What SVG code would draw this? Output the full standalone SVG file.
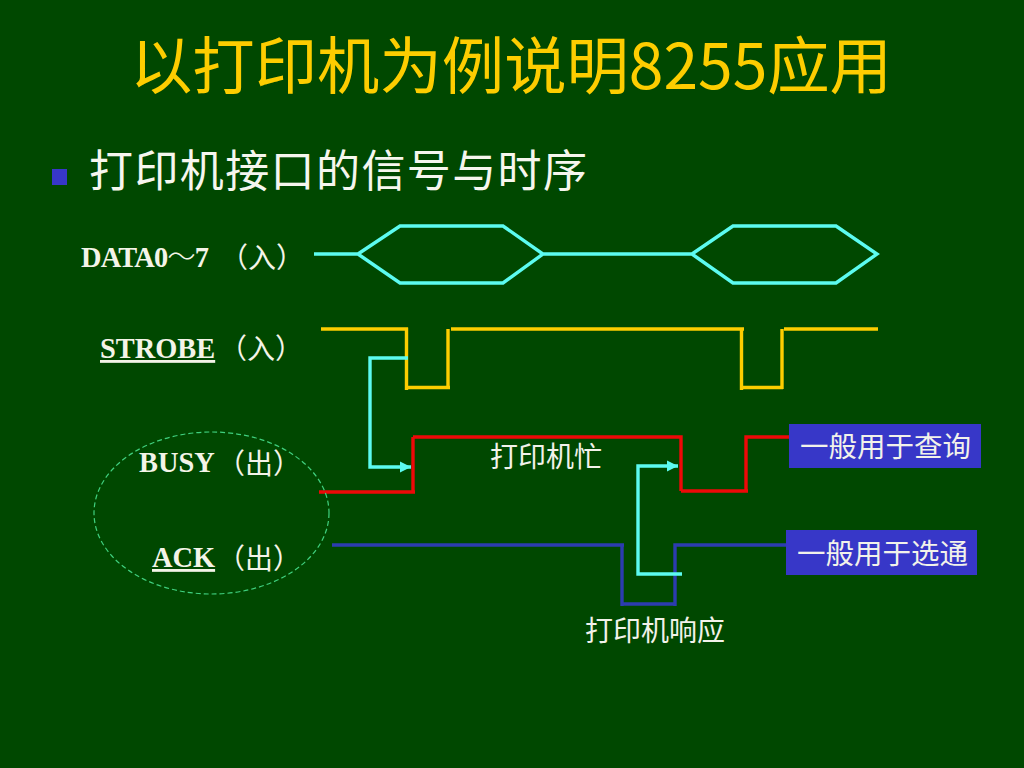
<svg xmlns="http://www.w3.org/2000/svg" width="1024" height="768" viewBox="0 0 1024 768">
<style>
.cjk{font-family:"Noto Sans CJK SC","Noto Sans",sans-serif}
.lab{font-family:"Liberation Serif","Noto Sans CJK SC",serif;font-weight:bold;font-size:28.400px;fill:#f4f4e8}
.lz{font-family:"Noto Sans CJK SC",serif;font-weight:400;font-size:28px;fill:#f4f4e8}
.w{fill:#f2f2ea;font-size:28.500px}
.f{fill:#f2f2ea;font-size:28px}
.l{fill:none;stroke-width:3.400;stroke-linejoin:miter}
.cy{stroke:#5cfbf0}.ye{stroke:#fdcd00}.re{stroke:#ee0808}.bl{stroke:#2c3cb0}
.box{fill:#3737c8}
</style>
<defs>
<marker id="ah" markerUnits="userSpaceOnUse" markerWidth="13" markerHeight="13" refX="11" refY="6" orient="auto"><path d="M0 0.500L11 6L0 11.500z" fill="#5cfbf0"/></marker>
</defs>
<rect width="1024" height="768" fill="#004800"/>
<g id="title"><text class="cjk" x="130" y="89" font-size="62.400" fill="#fdcd00" textLength="762">以打印机为例说明8255应用</text></g>
<g id="subtitle"><rect x="52" y="169" width="15" height="16" fill="#3737c8"/><text class="cjk" x="89" y="187" font-size="44" fill="#f6f6ee" textLength="498">打印机接口的信号与时序</text></g>
<g id="connectors">
<path class="l cy" d="M314 254H358L400 226H503L543 254L503 283H400L358 254M543 254H692L733 226H836L877 254L836 283H733L692 254"/>
<path class="l ye" d="M321 329H408M406.500 327.500V390M406 387.500H450M448 389V329M451 329H744M741.500 330V390M741 387.500H783M782 389V329M784 329H878"/>
<path class="l re" d="M319 492H415M413 493V437M413 437H681V491M681 491H748M746 492V437H790"/>
<path class="l bl" d="M332 545H624M622 544V606M622 604H676M675 606V545H786"/>
<path class="l cy" d="M408 358H370V467H411" marker-end="url(#ah)"/>
<path class="l cy" d="M682 574H638V466H678" marker-end="url(#ah)"/>
<ellipse cx="211.500" cy="513" rx="117.500" ry="81" fill="none" stroke="#3fd07e" stroke-width="1.200" stroke-dasharray="5 3"/>
</g>
<g id="node-data"><text class="lab" x="81" y="267" textLength="128">DATA0<tspan font-family="Noto Sans CJK SC" font-weight="300">～</tspan>7</text><text class="lz" x="220" y="268">（入）</text></g>
<g id="node-strobe"><text class="lab" x="100" y="358" text-decoration="underline">STROBE</text><text class="lz" x="219" y="359">（入）</text></g>
<g id="node-busy"><text class="lab" x="139" y="472">BUSY</text><text class="lz" x="217" y="474">（出）</text></g>
<g id="node-ack"><text class="lab" x="152" y="567" text-decoration="underline">ACK</text><text class="lz" x="217" y="569">（出）</text></g>
<g id="label-busy"><text class="cjk f" x="490" y="467">打印机忙</text></g>
<g id="label-ack"><text class="cjk f" x="585" y="641">打印机响应</text></g>
<g id="box-query"><rect class="box" x="789" y="424" width="192" height="44"/><text class="cjk w" x="800" y="457">一般用于查询</text></g>
<g id="box-select"><rect class="box" x="786" y="530" width="191" height="45"/><text class="cjk w" x="797" y="564">一般用于选通</text></g>
</svg>
